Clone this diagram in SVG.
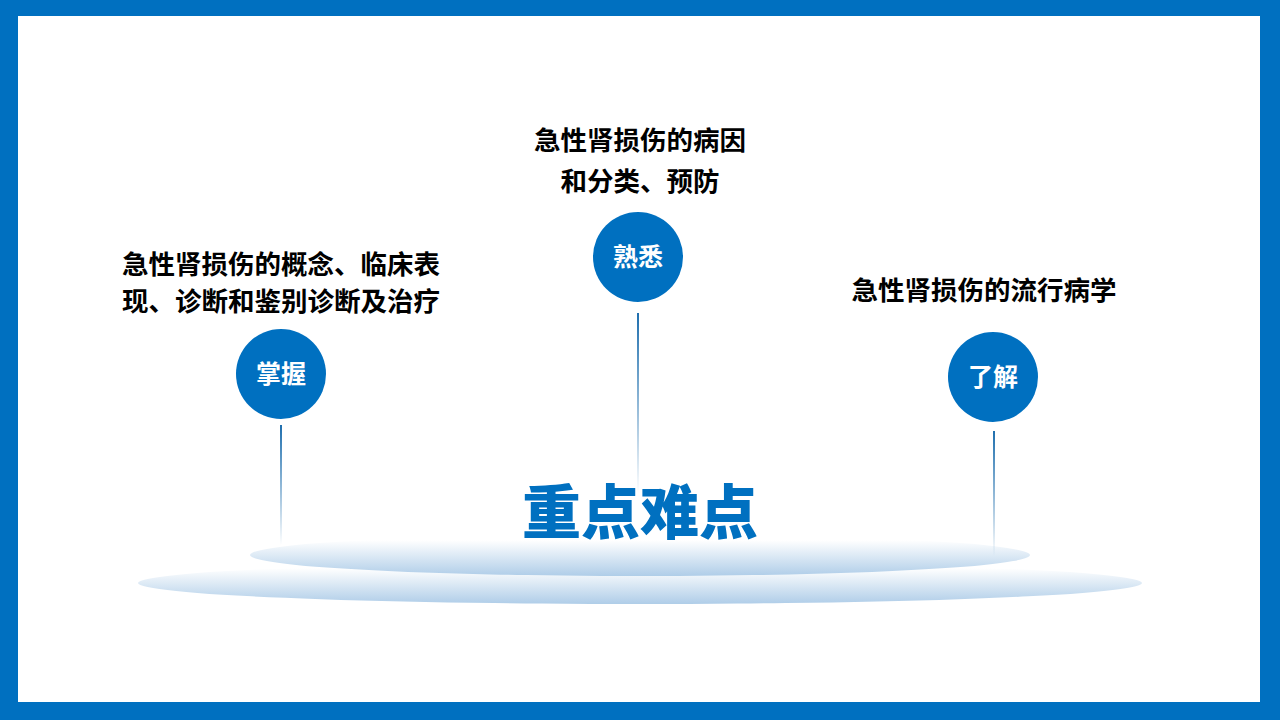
<svg xmlns="http://www.w3.org/2000/svg" width="1280" height="720" viewBox="0 0 1280 720">
<style>
.t{font-family:"Liberation Sans","Noto Sans CJK SC",sans-serif;font-weight:bold;font-size:26.5px;fill:#000;text-anchor:middle}
.c{fill:#0070C0}
.ct{font-family:"Liberation Sans","Noto Sans CJK SC",sans-serif;font-weight:bold;font-size:25px;fill:#fff;text-anchor:middle}
</style>
<defs>
<linearGradient id="eg" x1="0" y1="0" x2="0" y2="1"><stop offset="0.15" stop-color="#fff"/><stop offset="1" stop-color="#AFCDE8"/></linearGradient>
<linearGradient id="lg" x1="0" y1="0" x2="0" y2="1"><stop offset="0" stop-color="#1F6FAE"/><stop offset="1" stop-color="#1F6FAE" stop-opacity="0"/></linearGradient>
</defs>
<rect x="0" y="0" width="1280" height="720" fill="#0070C0"/>
<rect x="18" y="16" width="1242" height="686" fill="#fff"/>
<ellipse cx="640" cy="583" rx="502" ry="21" fill="url(#eg)"/>
<ellipse cx="640" cy="555" rx="390" ry="21" fill="url(#eg)"/>
<g id="connectors">
<rect x="280" y="425" width="2" height="120" fill="url(#lg)"/>
<rect x="637" y="313" width="2" height="180" fill="url(#lg)"/>
<rect x="993" y="431" width="2" height="125" fill="url(#lg)"/>
</g>
<g id="title"><text x="640" y="534" font-family="'Liberation Sans','Noto Sans CJK SC',sans-serif" font-weight="900" font-size="59" fill="#0070C0" text-anchor="middle">重点难点</text></g>
<g id="master">
<circle class="c" cx="281" cy="374" r="45"/>
<text class="ct" x="281" y="383">掌握</text>
<text class="t" x="281" y="274">急性肾损伤的概念、临床表</text>
<text class="t" x="281" y="311">现、诊断和鉴别诊断及治疗</text>
</g>
<g id="familiar">
<circle class="c" cx="638" cy="257" r="45"/>
<text class="ct" x="638" y="266">熟悉</text>
<text class="t" x="640" y="150">急性肾损伤的病因</text>
<text class="t" x="640" y="191">和分类、预防</text>
</g>
<g id="understand">
<circle class="c" cx="993" cy="377" r="45"/>
<text class="ct" x="993" y="386">了解</text>
<text class="t" x="984" y="300">急性肾损伤的流行病学</text>
</g>
</svg>
